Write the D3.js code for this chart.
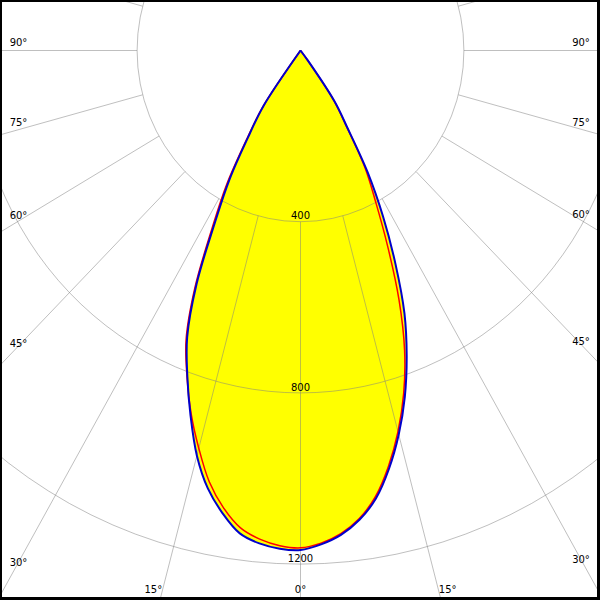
<!DOCTYPE html>
<html><head><meta charset="utf-8">
<script src="https://cdn.jsdelivr.net/npm/d3@7"></script>
<style>html,body{margin:0;padding:0;background:#fff;} svg{display:block;}</style>
</head><body>
<script>
// Gamma angles (degrees from nadir) and luminous intensity readings (cd/klm)
const gammaAngles = [0, 2.5, 5, 7.5, 10, 12.5, 15, 17.5, 20, 22.5, 25, 27.5, 30, 32.5, 35, 37.5, 40];
const blueRight = [1165, 1155, 1136, 1106, 1063, 1001, 929, 849, 760, 665, 550, 438, 329, 212, 145, 30, 0];
const blueLeft  = [1167, 1165, 1156, 1138, 1098, 1048, 980, 895, 810, 725, 602, 455, 347, 234, 158, 0, 0];
const redRight  = [1160, 1152, 1133, 1103, 1058, 995, 922, 840, 745, 630, 505, 398, 315, 208, 142, 25, 0];
const redLeft   = [1162, 1158, 1146, 1125, 1085, 1032, 962, 890, 812, 732, 612, 470, 362, 243, 162, 0, 0];

const ringValues = [400, 800, 1200];
const ringLabels = ["400", "800", "1200"];
const spokeAngles = [0, 15, 30, 45, 60, 75, 90, 105, 120, 135, 150, 165, 180];
const sideLabelAngles = [30, 45, 60, 75, 90];
const bottomLabelAngles = [0, 15];

const W = 600, H = 600;
const cx = 300.5, cy = 50.5;
const rx = d3.scaleLinear().domain([0, 400]).range([0, 163.4]);
const ry = d3.scaleLinear().domain([0, 400]).range([0, 171.2]);
const rad = d => d * Math.PI / 180;

const svg = d3.select("body").append("svg").attr("width", W).attr("height", H);
svg.append("rect").attr("width", W).attr("height", H).attr("fill", "#fff");
svg.append("defs").append("clipPath").attr("id", "frame")
  .append("rect").attr("x", 2).attr("y", 2).attr("width", 595).attr("height", 595);

const pt = (I, g, side) => [cx + side * rx(I) * Math.sin(rad(g)), cy + ry(I) * Math.cos(rad(g))];

// open path: origin -> left side down to nadir -> right side back up to origin
function lobe(leftVals, rightVals) {
  const pts = [[cx, cy]];
  for (let i = gammaAngles.length - 1; i >= 0; i--) if (leftVals[i] > 0) pts.push(pt(leftVals[i], gammaAngles[i], -1));
  for (let i = 1; i < gammaAngles.length; i++) if (rightVals[i] > 0) pts.push(pt(rightVals[i], gammaAngles[i], 1));
  pts.push([cx, cy]);
  return pts;
}
const line = d3.line().curve(d3.curveCatmullRom.alpha(0.5));

const g = svg.append("g").attr("clip-path", "url(#frame)");
const bluePts = lobe(blueLeft, blueRight);
const redPts = lobe(redLeft, redRight);
g.append("path").attr("d", line(bluePts) + "Z").attr("fill", "#ffff00");
g.append("path").attr("d", line(redPts) + "Z").attr("fill", "#ffff00");

// grid
const grid = g.append("g").attr("stroke", "#808080").attr("stroke-opacity", 0.5).attr("fill", "none").attr("stroke-width", 1);
ringValues.forEach(v => {
  grid.append("ellipse").attr("cx", cx).attr("cy", cy).attr("rx", rx(v)).attr("ry", ry(v));
});
spokeAngles.forEach(a => {
  [-1, 1].forEach(side => {
    if (a === 0 && side === 1) return;
    if (a === 180 && side === 1) return;
    const p0 = pt(ringValues[0], a, side), p1 = pt(4000, a, side);
    grid.append("line").attr("x1", p0[0]).attr("y1", p0[1]).attr("x2", p1[0]).attr("y2", p1[1]);
  });
});

// curves
g.append("path").attr("d", line(redPts)).attr("fill", "none").attr("stroke", "#ff0000").attr("stroke-width", 1.5).attr("stroke-linejoin", "round");
g.append("path").attr("d", line(bluePts)).attr("fill", "none").attr("stroke", "#0000cc").attr("stroke-width", 2).attr("stroke-linejoin", "round");

// labels
const txt = svg.append("g").attr("font-family", "'DejaVu Sans', Verdana, sans-serif").attr("font-size", 10).attr("fill", "#000").attr("text-anchor", "middle");
ringValues.forEach((v, i) => {
  txt.append("text").attr("x", cx).attr("y", cy + ry(v) - 2.3).text(ringLabels[i]);
});
const kx = rx(1), ky = ry(1);
sideLabelAngles.forEach(a => {
  [-1, 1].forEach(side => {
    const lx = side < 0 ? 18.5 : 581;
    const s = Math.sin(rad(a)), c = Math.cos(rad(a));
    const lineY = cy + Math.abs(lx - cx) / (s * kx) * c * ky;
    const yc = lineY - 8 * Math.sin(rad(1.5 * (a - 30)));
    txt.append("text").attr("x", lx).attr("y", yc).attr("dy", "0.37em").text(a + "°");
  });
});
bottomLabelAngles.forEach(a => {
  const sides = a === 0 ? [1] : [-1, 1];
  sides.forEach(side => {
    const yc = 589;
    const lineX = cx + side * (yc - cy) * Math.tan(rad(a)) * kx / ky;
    const x = lineX + side * 9.5 * a / 15;
    txt.append("text").attr("x", x).attr("y", yc).attr("dy", "0.37em").text(a + "°");
  });
});

// frame
svg.append("rect").attr("x", 0).attr("y", 0).attr("width", W).attr("height", 2).attr("fill", "#000");
svg.append("rect").attr("x", 0).attr("y", 0).attr("width", 2).attr("height", H).attr("fill", "#000");
svg.append("rect").attr("x", 597).attr("y", 0).attr("width", 3).attr("height", H).attr("fill", "#000");
svg.append("rect").attr("x", 0).attr("y", 597).attr("width", W).attr("height", 3).attr("fill", "#000");
</script>
</body></html>
